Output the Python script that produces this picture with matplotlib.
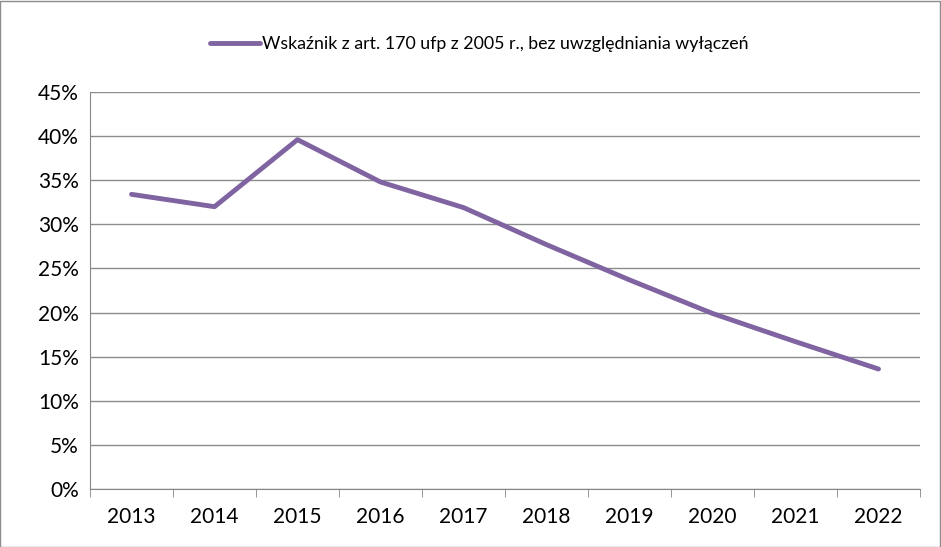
import matplotlib.pyplot as plt
import numpy as np
from matplotlib.ticker import FuncFormatter

years = ['2013', '2014', '2015', '2016', '2017', '2018', '2019', '2020', '2021', '2022']
values = [33.4, 32.0, 39.6, 34.8, 31.9, 27.7, 23.7, 19.9, 16.7, 13.6]
label = 'Wskaźnik z art. 170 ufp z 2005 r., bez uwzględniania wyłączeń'

plt.rcParams['font.family'] = ['Lato', 'DejaVu Sans']

fig = plt.figure(figsize=(9.41, 5.47), dpi=100)
ax = fig.add_axes([90 / 941, 1 - 489 / 547, 830 / 941, 397 / 547])

x = np.arange(len(years))
ax.plot(x, values, color='#8064A2', lw=3.5, solid_capstyle='round', solid_joinstyle='round', label=label)

ax.set_xlim(-0.5, len(years) - 0.5)
ax.set_ylim(0, 45)
ax.set_yticks(np.arange(0, 46, 5))
ax.yaxis.set_major_formatter(FuncFormatter(lambda v, p: f'{v:.0f}%'))
ax.set_xticks(x)
ax.set_xticklabels(years)
ax.set_xticks(np.arange(-0.5, len(years), 1), minor=True)
ax.tick_params(axis='x', which='major', length=0, pad=13, labelsize=15)
ax.tick_params(axis='x', which='minor', length=6, color='#868686', direction='out')
ax.tick_params(axis='y', length=0, pad=8, labelsize=15)

ax.grid(axis='y', color='#8c8c8c', lw=1)
ax.set_axisbelow(True)
for s in ['top', 'right']:
    ax.spines[s].set_visible(False)
ax.spines['left'].set_color('#868686')
ax.spines['bottom'].set_color('#868686')

leg = fig.legend(loc='center', bbox_to_anchor=(479 / 941, 1 - 44 / 547), frameon=False,
                 fontsize=12.8, handlelength=2.85, handletextpad=0.1)

fig.patches.append(plt.Rectangle((0.0005, 0.0005), 0.998, 0.998, transform=fig.transFigure,
                                 fill=False, edgecolor='#8c8c8c', lw=1))

fig.savefig('out.png', dpi=100)
